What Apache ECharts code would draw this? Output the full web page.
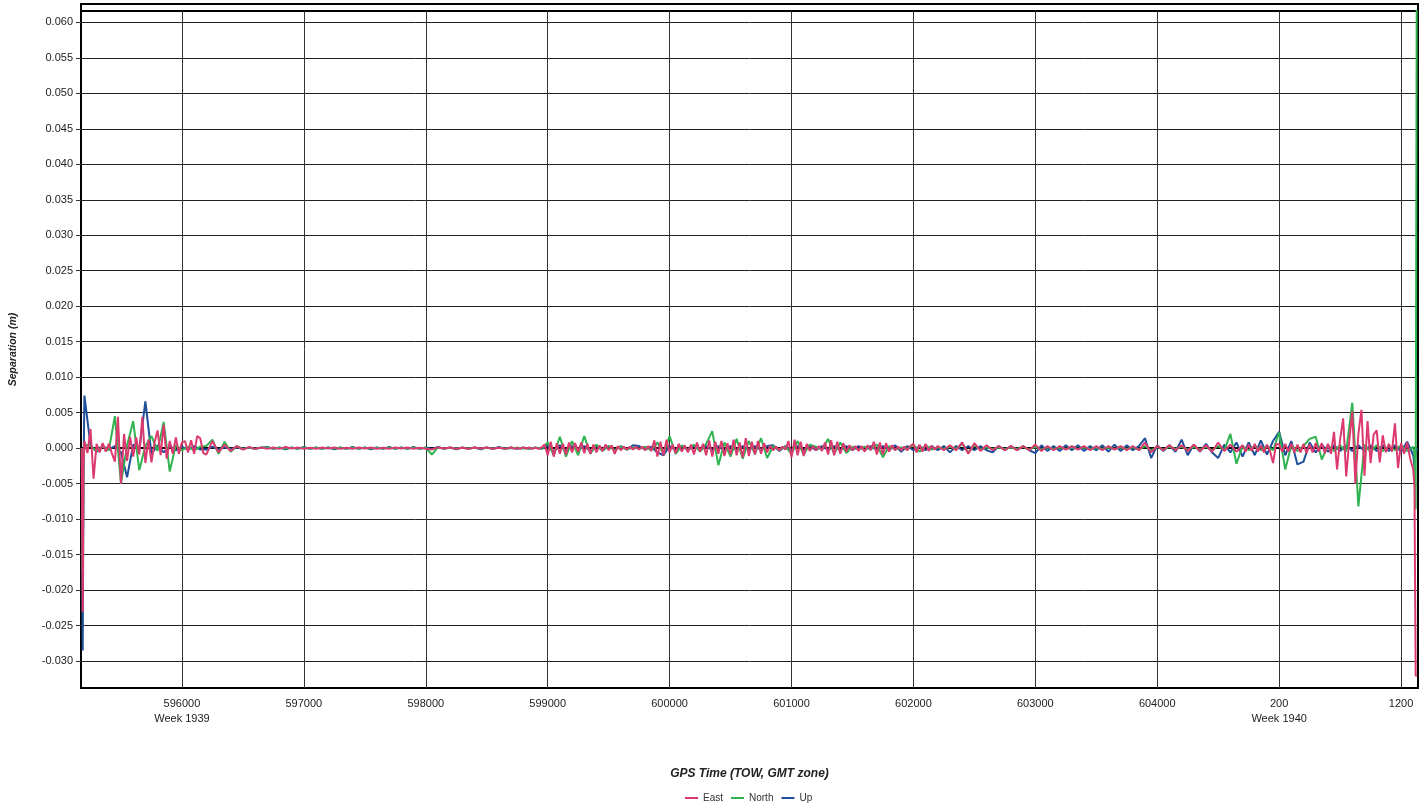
<!DOCTYPE html>
<html>
<head>
<meta charset="utf-8">
<script src="https://cdn.jsdelivr.net/npm/echarts@6/dist/echarts.min.js"></script>
<style>
html,body{margin:0;padding:0;background:#fff;}
#chart{width:1427px;height:805px;}
</style>
</head>
<body>
<div id="chart"></div>
<script>
// ---- time base (GPS seconds, continuous across the week rollover) ----
const weekRollover = 604800;
const timeStart = 595200;      // each row of samples spans 500 s starting at timeStart + row*500
const rowSpan = 500;
const leftEdgeTimes = [595178, 595186, 595193];
const rightEdgeTimes = [606110, 606120, 606130];

// ---- tick labels ----
const xTicks = [596000, 597000, 598000, 599000, 600000, 601000, 602000, 603000, 604000, 605000, 606000];
const weekTicks = [596000, 605000];
const weekNames = ['Week 1939', 'Week 1940'];
const yTicks = [-0.030, -0.025, -0.020, -0.015, -0.010, -0.005, 0.000, 0.005, 0.010, 0.015, 0.020, 0.025, 0.030, 0.035, 0.040, 0.045, 0.050, 0.055, 0.060];

// ---- series values, in millimetres ----
// East: sample spacing per row (s)
const eastSteps = [25, 25, 50, 50, 50, 50, 50, 25, 25, 25, 25, 25, 25, 25, 50, 50, 50, 50, 50, 25, 25, 25];
const eastLeft = [0, -23.1, -2.0];
const eastRows = [
  [1.0, -0.7, 2.7, -4.3, 0.6, -0.6, 0.7, -0.5, 0.6, -0.7, -1.9, 4.4, -5.0, 2.0, -1.8, 1.6, -1.2, 1.5, -0.9, 4.4],
  [-2.1, 1.2, -2.0, 0.8, 2.5, -1.0, 3.3, -1.5, 1.0, -0.8, 1.5, -0.8, 0.8, 1.0, -0.6, 1.1, -0.8, 1.7, 1.4, -0.7],
  [-0.9, 1.0, -0.6, 0.5, -0.4, 0.3, -0.2, 0.15, -0.1, 0.1],
  [-0.1, 0.1, -0.1, 0.15, -0.05, 0.1, -0.1, 0.05, -0.1, 0.1],
  [-0.05, 0.1, -0.1, 0.05, -0.1, 0.1, -0.05, 0.1, -0.1, 0.05],
  [-0.1, 0.1, -0.05, 0.1, -0.1, 0.05, -0.1, -0.2, 0.1, -0.05],
  [0.1, -0.1, 0.05, -0.1, 0.1, -0.05, 0.1, -0.1, 0.05, -0.1],
  [0.1, -0.1, 0.05, -0.1, 0.1, -0.05, 0.1, -0.1, 0.05, -0.1, 0.1, 0.5, -1.0, 0.9, -1.2, 0.7, -0.8, 0.6, -0.9, 0.8],
  [-0.6, 0.7, -0.5, 0.8, -0.7, 0.6, -0.8, 0.5, -0.6, 0.4, -0.4, 0.5, -0.3, 0.4, -0.8, 0.3, -0.3, 0.2, -0.2, 0.2],
  [-0.2, 0.2, -0.2, 0.2, -0.3, 0.3, -0.4, 1.1, -1.2, 0.9, -1.0, 1.2, -0.6, 0.5, -0.7, 0.6, -0.5, 0.4, -0.6, 0.5],
  [-0.9, 0.8, -0.5, 0.6, -1.0, 1.1, -1.2, 0.9, -0.8, 1.0, -1.1, 0.7, -0.9, 1.2, -1.0, 0.8, -1.3, 1.4, -1.1, 0.9],
  [-0.9, 1.0, -0.8, 0.7, -0.6, 0.3, -0.3, 0.2, -0.3, 0.2, -0.2, 1.0, -1.3, 1.2, -1.0, 0.9, -1.1, 0.6, -0.4, 0.3],
  [-0.3, 0.3, -0.4, 0.8, -0.9, 1.1, -1.0, 0.9, -0.8, 0.7, -0.5, 0.4, -0.3, 0.3, -0.4, 0.3, -0.5, 0.4, -0.3, 0.9],
  [-0.9, 0.8, -0.9, 0.7, -0.5, 0.4, -0.3, 0.2, -0.3, 0.2, -0.3, 0.3, 0.6, -0.6, 0.5, -0.5, 0.6, -0.4, 0.3, -0.2],
  [0.3, -0.3, 0.4, -0.3, 0.8, -0.8, 0.7, -0.4, 0.4, -0.3],
  [0.3, -0.3, 0.3, -0.3, 0.3, -0.3, 0.5, -0.4, 0.3, -0.3],
  [0.3, -0.2, 0.3, -0.2, 0.3, -0.3, 0.3, -0.3, 0.3, -0.2],
  [0.3, -0.3, 0.3, -0.3, 0.8, -0.6, 0.3, -0.3, 0.4, -0.3],
  [0.4, -0.4, 0.5, -0.4, 0.4, -0.5, 0.8, -0.4, 0.5, -0.5],
  [0.4, -0.5, 0.5, -0.4, 0.6, -0.5, 0.4, -0.6, 0.5, -0.4, -2.1, 0.6, 0.5, -0.5, 0.6, -0.5, 0.6, -0.6, 0.5, -0.6],
  [0.6, -0.7, 0.5, -0.6, 0.7, -0.5, 0.7, -0.7, 0.6, -0.8, 2.3, -3.0, 1.2, 4.2, -4.0, 1.0, 5.2, -5.0, 2.0, 5.4],
  [-3.9, 3.8, -2.1, 1.9, 2.5, -2.0, 1.8, -0.6, 0.6, -0.5, 3.5, -2.8, 0.7, -0.8, 0.8, -1.5, -3.0]
];
const eastRight = [-5.5, -32.1, -32.0];

// North: every row sampled at 50 s
const northSteps = [50, 50, 50, 50, 50, 50, 50, 50, 50, 50, 50, 50, 50, 50, 50, 50, 50, 50, 50, 50, 50, 50];
const northLeft = [0, -17.5, -1.0];
const northRows = [
  [0.5, 0.3, -0.4, 0.2, -0.3, 4.5, -5.0, 0.4, 3.8, -3.1],
  [0.3, 1.7, -0.4, 3.7, -3.3, 0.4, -0.3, 0.2, -0.3, 0.2],
  [0.3, 1.2, -0.8, 0.9, -0.5, 0.3, -0.1, 0.1, -0.1, 0.1],
  [0.05, -0.05, 0.05, -0.05, 0.05, -0.05, 0.05, -0.05, 0.05, -0.05],
  [0.05, -0.05, 0.05, -0.05, 0.05, -0.05, 0.05, -0.05, 0.05, -0.05],
  [0.05, -0.05, 0.05, -0.05, 0.05, -0.05, 0.05, -0.9, 0.1, -0.05],
  [0.05, -0.05, 0.05, -0.05, 0.05, -0.05, 0.05, -0.05, 0.05, -0.05],
  [0, 0.05, -0.05, 0, 0.05, -0.05, 0.8, -1.0, 1.6, -1.2],
  [1.0, -1.0, 1.7, -0.8, 0.5, -0.4, 0.3, -0.3, 0.2, -0.2],
  [0.1, -0.1, 0.2, -0.3, 0.8, -0.8, 1.7, -0.8, 0.4, -0.3],
  [0.5, -0.5, 0.6, 2.4, -2.4, 0.8, -1.2, 1.3, -1.5, 1.0],
  [-0.8, 1.4, -1.4, 0.3, -0.2, 0.2, -0.8, 1.0, -0.9, 0.5],
  [0.2, -0.2, 1.3, -0.8, 0.8, -0.7, 0.2, -0.2, 0.2, -0.2],
  [0.5, -1.3, 0.3, -0.2, 0.1, -0.1, 0.5, -0.5, 0.4, -0.2],
  [0.1, -0.1, 0.2, -0.1, 0.6, -0.6, 0.4, -0.2, 0.1, -0.1],
  [0.1, -0.1, 0.1, -0.1, 0.2, -0.2, 0.2, -0.2, 0.1, -0.1],
  [0.1, -0.1, 0.1, -0.1, 0.1, -0.1, 0.1, -0.1, 0.1, -0.1],
  [0.1, -0.1, 0.1, -0.2, 0.3, -0.3, 0.2, -0.2, 0.2, -0.1],
  [0.2, -0.2, 0.2, -0.2, 0.2, -0.3, 0.3, -0.3, 2.0, -2.2],
  [0.3, -0.3, 0.3, -0.3, 0.3, -0.3, 2.2, -3.0, 0.4, -0.4],
  [0.3, 1.3, 1.6, -1.6, 0.4, -0.4, 0.4, -0.5, 6.4, -8.2],
  [0.5, -0.5, 0.4, -0.4, 0.3, -0.3, 0.4, -0.4, 0.2]
];
const northRight = [-1.0, -8.6, 75.0];

// Up: every row sampled at 50 s
const upSteps = [50, 50, 50, 50, 50, 50, 50, 50, 50, 50, 50, 50, 50, 50, 50, 50, 50, 50, 50, 50, 50, 50];
const upLeft = [-0.5, -28.5, -3.0];
const upRows = [
  [7.4, 0.4, -0.5, 0.3, -0.2, 0.3, -0.6, -4.1, 0.5, -0.3],
  [6.6, -0.8, 0.4, -0.6, 0.3, -0.3, 0.2, -0.2, 0.3, -0.2],
  [-0.2, 0.2, -0.2, 0.1, -0.1, 0.1, -0.1, 0.1, -0.1, 0.05],
  [0.15, -0.1, 0.1, -0.15, 0.1, -0.1, 0.15, -0.1, 0.1, -0.1],
  [0.1, -0.15, 0.1, -0.1, 0.15, -0.1, 0.1, -0.15, 0.1, -0.1],
  [0.15, -0.1, 0.1, -0.1, 0.15, -0.1, 0.1, -0.1, 0.15, -0.1],
  [0.1, -0.15, 0.1, -0.1, 0.1, -0.15, 0.1, -0.1, 0.15, -0.1],
  [0.1, -0.1, 0.1, -0.1, 0.1, -0.1, 0.4, -0.5, 0.4, -0.4],
  [0.3, -0.3, 0.3, -0.4, 0.3, -0.3, 0.3, -0.3, 0.3, -0.2],
  [0.4, 0.3, -0.2, 0.2, -0.6, -1.0, 0.3, -0.3, 0.3, -0.3],
  [0.3, -0.3, 0.3, -0.3, 0.3, -0.3, 0.3, -0.3, 0.3, -0.3],
  [0.3, -0.3, 0.3, 0.4, -0.4, 0.3, -0.3, 0.3, -0.3, 0.3],
  [-0.3, 0.3, -0.3, 0.3, -0.3, 0.3, -0.3, 0.3, -0.3, 0.3],
  [-0.3, 0.3, -0.3, 0.4, -0.5, 0.3, -0.3, 0.3, -0.3, 0.3],
  [-0.3, 0.3, -0.6, 0.3, -0.3, 0.3, -0.3, 0.3, -0.3, -0.6],
  [0.3, -0.3, 0.3, -0.3, 0.3, -0.3, -0.7, 0.4, -0.4, 0.3],
  [-0.4, 0.4, -0.3, 0.4, -0.4, 0.3, -0.3, 0.4, -0.5, 0.5],
  [-0.4, 0.4, -0.3, 0.3, 1.4, -1.4, 0.4, -0.4, 0.4, -0.5],
  [1.2, -1.0, 0.5, -0.5, 0.6, -0.6, -1.4, 0.5, -0.6, 0.8],
  [-1.2, 0.8, -1.0, 1.1, -0.9, 1.0, 2.3, -1.0, 1.0, -2.3],
  [-1.9, 0.8, -0.6, 0.5, -0.5, 0.4, -0.4, 0.4, -0.4, 0.4],
  [-0.4, 0.4, -0.4, 0.4, -0.4, 0.4, -0.5, 0.9, -1.0]
];
const upRight = [-2.6, -1.0, 0.0];

// ---- assemble [time, metres] pairs ----
function buildSeries(left, rows, steps, right) {
  const out = [];
  left.forEach((v, i) => out.push([leftEdgeTimes[i], v / 1000]));
  rows.forEach((row, r) => {
    const t0 = timeStart + r * rowSpan;
    row.forEach((v, k) => out.push([t0 + k * steps[r], v / 1000]));
  });
  right.forEach((v, i) => out.push([rightEdgeTimes[i], v / 1000]));
  return out;
}
const eastData = buildSeries(eastLeft, eastRows, eastSteps, eastRight);
const northData = buildSeries(northLeft, northRows, northSteps, northRight);
const upData = buildSeries(upLeft, upRows, upSteps, upRight);

const FONT = "'Liberation Sans', Arial, sans-serif";
const chart = echarts.init(document.getElementById('chart'), null, {renderer: 'canvas'});

function lineSeries(name, color, data) {
  return {
    name, type: 'line', data, showSymbol: false, symbol: 'none',
    color, lineStyle: {color, width: 2}, clip: true, animation: false,
    sampling: false
  };
}

chart.setOption({
  animation: false,
  backgroundColor: '#fff',
  grid: {left: 81, right: 9, top: 11, bottom: 117, show: true, borderColor: '#000', borderWidth: 2, containLabel: false},
  graphic: [{
    type: 'rect', silent: true,
    shape: {x: 81, y: 4, width: 1337, height: 7},
    style: {fill: 'none', stroke: '#000', lineWidth: 2}
  }],
  legend: {
    data: ['East', 'North', 'Up'],
    top: 788, left: 680,
    icon: 'rect', itemWidth: 13, itemHeight: 2, itemGap: 8,
    textStyle: {fontFamily: FONT, fontSize: 10, color: '#333'}
  },
  xAxis: {
    type: 'value', min: 595172, max: 606139,
    name: 'GPS Time (TOW, GMT zone)', nameLocation: 'middle', nameGap: 80,
    nameTextStyle: {fontFamily: FONT, fontSize: 12, fontWeight: 'bold', fontStyle: 'italic', color: '#222'},
    axisLine: {show: true, lineStyle: {color: '#000', width: 2}},
    axisTick: {show: true, customValues: xTicks, length: 5, lineStyle: {color: '#333'}},
    axisLabel: {
      customValues: xTicks, margin: 8,
      fontFamily: FONT, fontSize: 11, color: '#222', lineHeight: 15,
      formatter: function (v) {
        const tow = v >= weekRollover ? v - weekRollover : v;
        const k = weekTicks.indexOf(v);
        return k >= 0 ? tow + '\n' + weekNames[k] : String(tow);
      }
    },
    splitLine: {show: true, lineStyle: {color: '#333', width: 1}}
  },
  yAxis: {
    type: 'value', min: -0.0338, max: 0.0616,
    name: 'Separation (m)', nameLocation: 'middle', nameGap: 62, nameRotate: 90,
    nameTextStyle: {fontFamily: FONT, fontSize: 10.5, fontWeight: 'bold', fontStyle: 'italic', color: '#222'},
    axisLine: {show: true, lineStyle: {color: '#000', width: 2}},
    axisTick: {show: true, customValues: yTicks, length: 5, lineStyle: {color: '#333'}},
    axisLabel: {
      customValues: yTicks, margin: 8,
      fontFamily: FONT, fontSize: 11, color: '#222',
      formatter: v => v.toFixed(3)
    },
    splitLine: {show: true, lineStyle: {color: '#222', width: 1}}
  },
  series: [
    lineSeries('Up', '#1f4e9b', upData),
    lineSeries('North', '#2fb350', northData),
    lineSeries('East', '#dc3a6e', eastData)
  ]
});
</script>
</body>
</html>
